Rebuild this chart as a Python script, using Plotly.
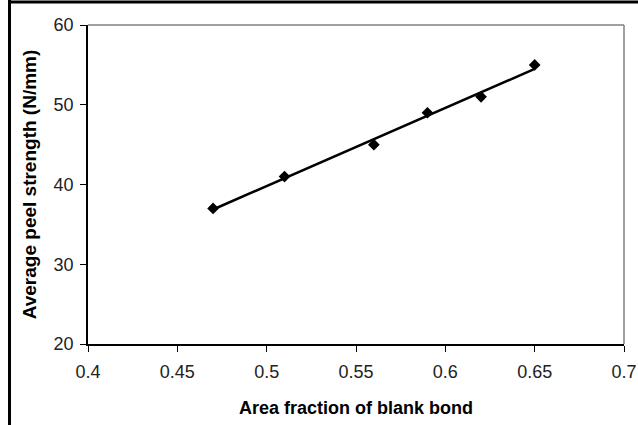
import numpy as np
import plotly.graph_objects as go

area_fraction = [0.47, 0.51, 0.56, 0.59, 0.62, 0.65]
peel_strength = [37, 41, 45, 49, 51, 55]

x_ticks = [0.4, 0.45, 0.5, 0.55, 0.6, 0.65, 0.7]
x_tick_labels = ["0.4", "0.45", "0.5", "0.55", "0.6", "0.65", "0.7"]
y_ticks = [20, 30, 40, 50, 60]

slope, intercept = np.polyfit(area_fraction, peel_strength, 1)
trend_x = [min(area_fraction), max(area_fraction)]
trend_y = [slope * v + intercept for v in trend_x]

W, H = 638, 425
L, R, T, B = 88, 14, 25, 81
pw, ph = W - L - R, H - T - B

def px_x(p):
    return (p - L) / pw

def px_y(p):
    return (H - B - p) / ph

fig = go.Figure()
fig.add_trace(go.Scatter(x=trend_x, y=trend_y, mode="lines",
                         line=dict(color="black", width=2.5), showlegend=False,
                         cliponaxis=False))
fig.add_trace(go.Scatter(x=area_fraction, y=peel_strength, mode="markers",
                         marker=dict(symbol="diamond", size=9, color="black"),
                         showlegend=False, cliponaxis=False))

font_family = "Liberation Sans, Arial, sans-serif"
fig.update_layout(
    template="none",
    width=W, height=H,
    margin=dict(l=L, r=R, t=T, b=B, autoexpand=False),
    paper_bgcolor="white", plot_bgcolor="white",
    font=dict(family=font_family, size=18, color="#222222"),
    xaxis=dict(range=[0.4, 0.7], tickvals=x_ticks, ticktext=x_tick_labels,
               automargin=False,
               ticks="outside", ticklen=6, tickcolor="black", tickwidth=1,
               ticklabelstandoff=5,
               showline=True, linecolor="black", linewidth=1.5,
               showgrid=False, zeroline=False,
               tickfont=dict(size=18),
               title=dict(text="<b>Area fraction of blank bond</b>", standoff=20,
                          font=dict(size=18, color="black"))),
    yaxis=dict(range=[20, 60], tickvals=y_ticks,
               automargin=False,
               ticks="outside", ticklen=6, tickcolor="black", tickwidth=1,
               ticklabelstandoff=3,
               showline=True, linecolor="black", linewidth=1.5,
               showgrid=False, zeroline=False,
               tickfont=dict(size=18),
               title=dict(text="<b>Average peel strength (N/mm)</b>", standoff=12,
                          font=dict(size=19, color="black"))),
    shapes=[
        dict(type="line", xref="paper", yref="paper", x0=0, x1=1, y0=1, y1=1,
             line=dict(color="#808080", width=1.5)),
        dict(type="line", xref="paper", yref="paper", x0=1, x1=1, y0=0, y1=1,
             line=dict(color="#808080", width=1.5)),
        dict(type="line", xref="paper", yref="paper", x0=px_x(8), x1=px_x(640),
             y0=px_y(2), y1=px_y(2), line=dict(color="black", width=3)),
        dict(type="line", xref="paper", yref="paper", x0=px_x(9.5), x1=px_x(9.5),
             y0=px_y(0), y1=px_y(427), line=dict(color="black", width=3)),
    ],
)

fig.write_html("out.html")
